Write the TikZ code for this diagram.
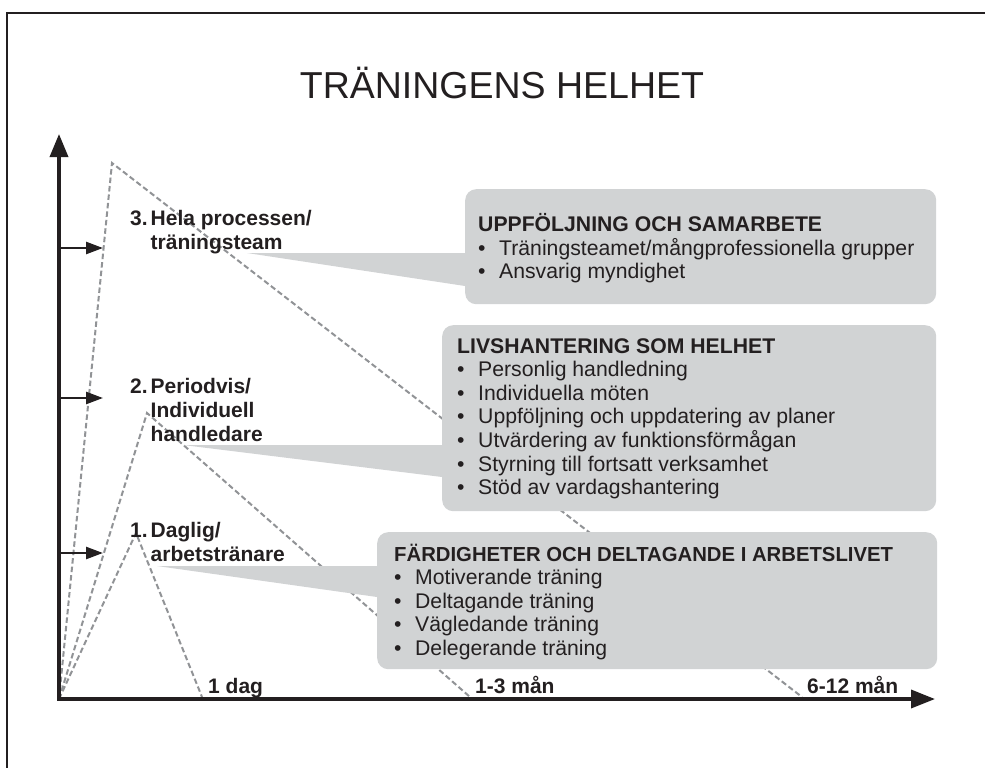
\documentclass[tikz,border=0pt]{standalone}
\usepackage{fontspec}
\setmainfont{Liberation Sans}
\usetikzlibrary{arrows.meta, positioning}
\definecolor{boxgray}{RGB}{209,211,212}
\definecolor{dashgray}{RGB}{145,147,150}
\definecolor{ink}{RGB}{35,31,32}
\tikzset{
  trend/.style={dashgray, line width=2pt, dash pattern=on 5.5pt off 3pt},
  panel/.style={fill=boxgray, rounded corners=11pt, inner sep=0pt, anchor=north west},
  lvl/.style={anchor=base west, inner sep=0pt, text=ink, font=\fontsize{21}{24}\selectfont\bfseries},
  txt/.style={anchor=base west, inner sep=0pt, text=ink, font=\fontsize{21.2}{23.5}\selectfont},
  tim/.style={anchor=base west, inner sep=0pt, text=ink, font=\fontsize{21}{24}\selectfont\bfseries},
}
\newcommand{\itm}[1]{\makebox[21pt][l]{\textbullet}#1}
\newcommand{\lvltab}[1]{\begin{tabular}[t]{@{}l@{\hspace{3pt}}l@{}}#1\end{tabular}}
\newcommand{\boxtab}[1]{\begin{tabular}[t]{@{}l@{}}#1\end{tabular}}

\begin{document}
\begin{tikzpicture}[x=1pt, y=-1pt]
\useasboundingbox (0,0) rectangle (985,768);
\draw[ink, line width=2pt] (7,768) -- (7,13) -- (985,13);
\node[anchor=base, text=ink, font=\fontsize{37.5}{40}\selectfont] (title) at (502,99) {TRÄNINGENS HELHET};

\coordinate (O) at (59,699);
\coordinate (ytop) at (59,134);
\coordinate (xend) at (935,699);
\coordinate (p3) at (112,163);
\coordinate (e3) at (802,697);
\coordinate (p2) at (147,413);
\coordinate (e2) at (470,697);
\coordinate (p1) at (136,533);
\coordinate (e1) at (202,697);
\draw[trend] (O) -- (p3) -- (e3);
\draw[trend] (O) -- (p2) -- (e2);
\draw[trend] (O) -- (p1) -- (e1);

\node[panel, minimum width=471pt, minimum height=115pt] (upp) at (465,189) {};
\node[panel, minimum width=494pt, minimum height=186pt] (liv) at (442,325) {};
\node[panel, minimum width=560pt, minimum height=137pt] (fard) at (377,532) {};
\coordinate (tip3) at (247,253);
\coordinate (tip2) at (183,445);
\coordinate (tip1) at (157,566);
\fill[boxgray] (tip3) -- ([xshift=8pt]tip3 -| upp.west) -- ++(0,33) -- ++(-8,0) -- cycle;
\fill[boxgray] (tip2) -- ([xshift=8pt]tip2 -| liv.west) -- ++(0,32) -- ++(-8,0) -- cycle;
\fill[boxgray] (tip1) -- ([xshift=8pt]tip1 -| fard.west) -- ++(0,31) -- ++(-8,0) -- cycle;

\node[txt] (uppt) at (478,231) {\boxtab{\textbf{UPPFÖLJNING OCH SAMARBETE}\\
  \itm{Träningsteamet/mångprofessionella grupper}\\ \itm{Ansvarig myndighet}}};
\node[txt] (livt) at (457,353) {\boxtab{\textbf{LIVSHANTERING SOM HELHET}\\
  \itm{Personlig handledning}\\ \itm{Individuella möten}\\
  \itm{Uppföljning och uppdatering av planer}\\ \itm{Utvärdering av funktionsförmågan}\\
  \itm{Styrning till fortsatt verksamhet}\\ \itm{Stöd av vardagshantering}}};
\node[txt] (fardt) at (394,561) {\boxtab{{\fontsize{20.3}{23.5}\selectfont\bfseries FÄRDIGHETER OCH DELTAGANDE I ARBETSLIVET}\\
  \itm{Motiverande träning}\\ \itm{Deltagande träning}\\
  \itm{Vägledande träning}\\ \itm{Delegerande träning}}};

\draw[ink, line width=3.5pt, {Triangle[length=23pt,width=18pt]}-{Triangle[length=24pt,width=18pt]}] (ytop) -- (O) -- (xend);
\foreach \y in {248,398,553}
  \draw[ink, line width=2.5pt, -{Triangle[length=17pt,width=12pt]}] (59,\y) -- (103,\y);

\node[lvl] (lvl3) at (130,225) {\lvltab{3.&Hela processen/\\&träningsteam}};
\node[lvl] (lvl2) at (130,393) {\lvltab{2.&Periodvis/\\&Individuell\\&handledare}};
\node[lvl] (lvl1) at (130,537) {\lvltab{1.&Daglig/\\&arbetstränare}};

\node[tim] (t1) at (208,693) {1 dag};
\node[tim] (t2) at (475,693) {1-3 mån};
\node[tim] (t3) at (807,693) {6-12 mån};
\end{tikzpicture}
\end{document}
